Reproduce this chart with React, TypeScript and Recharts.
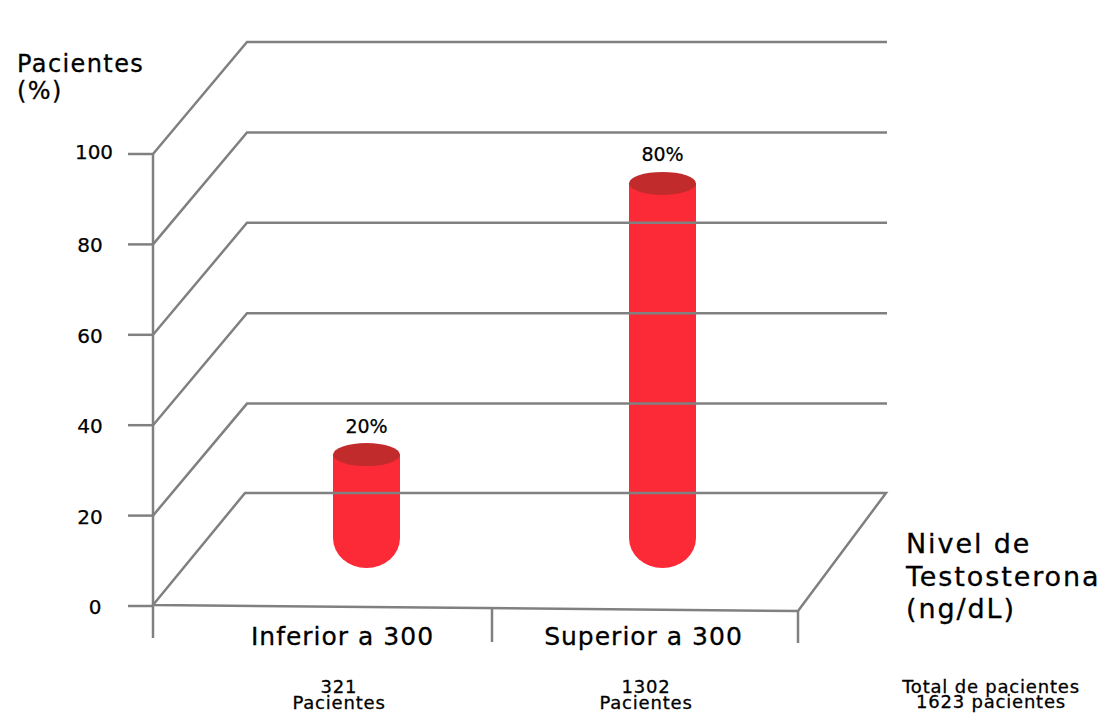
import { BarChart, Bar, XAxis, YAxis, ReferenceLine } from "recharts"

const categories = ["Inferior a 300", "Superior a 300"]
const percentages = [20, 80]
const yTicks = [0, 20, 40, 60, 80, 100]
const wallTicks = [20, 40, 60, 80, 100]
const patientCounts = ["321", "1302"]

const data = categories.map((category, i) => ({ category, percentage: percentages[i] }))

const FONT = "'DejaVu Sans', sans-serif"
const GREY = "#808080"
const RED = "#fc2a37"
const RED_DARK = "#c22b2c"
const LINE = 2.5

// how far the back wall sits from the front axis
const DEPTH_X = 94
const DEPTH_Y = 112
// the bars stand on the middle of the floor, not on its front edge
const FLOOR_LIFT = 61

const WallLine = (props: any) => {
  const { x1, y1, x2 } = props
  return (
    <polyline
      points={`${x1},${y1} ${x1 + DEPTH_X},${y1 - DEPTH_Y} ${x2},${y1 - DEPTH_Y}`}
      fill="none"
      stroke={GREY}
      strokeWidth={LINE}
    />
  )
}

const FloorLine = (props: any) => {
  const { x1, y1, x2 } = props
  const frontRight = x1 + 645
  const front = y1 - 1
  const back = y1 - DEPTH_Y - 1
  return (
    <g stroke={GREY} strokeWidth={LINE} fill="none">
      <polygon
        points={`${x1},${front} ${frontRight},${front + 6} ${x2 - 1},${back} ${x1 + 92},${back}`}
      />
      <line x1={x1} y1={front} x2={x1} y2={front + 33} />
      <line x1={x1 + 339} y1={front + 3} x2={x1 + 339} y2={front + 37} />
      <line x1={frontRight} y1={front + 6} x2={frontRight} y2={front + 38} />
    </g>
  )
}

const CylinderBar = (props: any) => {
  const { x, y, width, height, value } = props
  const top = y - FLOOR_LIFT
  const bottom = y + height - FLOOR_LIFT + 23
  const rx = width / 2
  const ry = 30
  const cx = x + rx
  return (
    <g>
      <path
        d={`M${x},${top} L${x + width},${top} L${x + width},${bottom - ry}
            A${rx},${ry} 0 0 1 ${x + width - rx},${bottom}
            A${rx},${ry} 0 0 1 ${x},${bottom - ry} Z`}
        fill={RED}
      />
      <ellipse cx={cx} cy={top} rx={rx} ry={11.5} fill={RED_DARK} />
      <text
        x={cx}
        y={top - 22}
        textAnchor="middle"
        fontFamily={FONT}
        fontSize={19}
        fill="#000"
        stroke="#000"
        strokeWidth={0.25}
      >
        {value}%
      </text>
    </g>
  )
}

const YTick = (props: any) => {
  const { y, payload } = props
  const nudge = payload.value === 100 ? 4 : payload.value === 0 ? 5 : 0
  const dy = payload.value === 100 ? 5 : 8
  return (
    <text
      x={90 + nudge}
      y={y + dy}
      textAnchor="middle"
      fontFamily={FONT}
      fontSize={20}
      fill="#000"
      stroke="#000"
      strokeWidth={0.25}
    >
      {payload.value}
    </text>
  )
}

const XTick = (props: any) => {
  const { x, payload } = props
  return (
    <text
      x={x}
      y={645}
      textAnchor="middle"
      fontFamily={FONT}
      fontSize={25}
      letterSpacing={1}
      fill="#000"
      stroke="#000"
      strokeWidth={0.3}
    >
      {payload.value}
    </text>
  )
}

export default function App() {
  return (
    <div style={{ position: "absolute", left: 0, top: 0 }}>
      <BarChart
        width={1107}
        height={716}
        data={data}
        margin={{ top: 154, right: 220, bottom: 80, left: 0 }}
      >
        <XAxis
          xAxisId="bars"
          dataKey="category"
          hide
          padding={{ left: 65, right: 77 }}
        />
        <XAxis
          xAxisId="labels"
          dataKey="category"
          height={30}
          axisLine={false}
          tickLine={false}
          tick={<XTick />}
          interval={0}
          padding={{ left: 39, right: 93 }}
        />
        <YAxis
          width={153}
          domain={[0, 100]}
          ticks={yTicks}
          tick={<YTick />}
          tickSize={25}
          axisLine={{ stroke: GREY, strokeWidth: LINE }}
          tickLine={{ stroke: GREY, strokeWidth: LINE }}
        />
        {wallTicks.map((t) => (
          <ReferenceLine key={t} xAxisId="bars" y={t} shape={<WallLine />} />
        ))}
        <ReferenceLine xAxisId="bars" y={0} shape={<FloorLine />} />
        <Bar
          xAxisId="bars"
          dataKey="percentage"
          barSize={67}
          shape={<CylinderBar />}
          isAnimationActive={false}
        />
        <g fontFamily={FONT} fill="#000" stroke="#000" strokeWidth={0.3}>
          <text fontSize={24} letterSpacing={1.4}>
            <tspan x={17} y={72}>Pacientes</tspan>
            <tspan x={17} y={99}>(%)</tspan>
          </text>
          <text fontSize={27} letterSpacing={1.9}>
            <tspan x={906} y={553}>Nivel de</tspan>
            <tspan x={906} y={586}>Testosterona</tspan>
            <tspan x={906} y={618}>(ng/dL)</tspan>
          </text>
          <text fontSize={18} letterSpacing={0.8} textAnchor="middle">
            <tspan x={339} y={693}>{patientCounts[0]}</tspan>
            <tspan x={339} y={709}>Pacientes</tspan>
            <tspan x={646} y={693}>{patientCounts[1]}</tspan>
            <tspan x={646} y={709}>Pacientes</tspan>
            <tspan x={991} y={693}>Total de pacientes</tspan>
            <tspan x={991} y={708}>1623 pacientes</tspan>
          </text>
        </g>
      </BarChart>
    </div>
  )
}
